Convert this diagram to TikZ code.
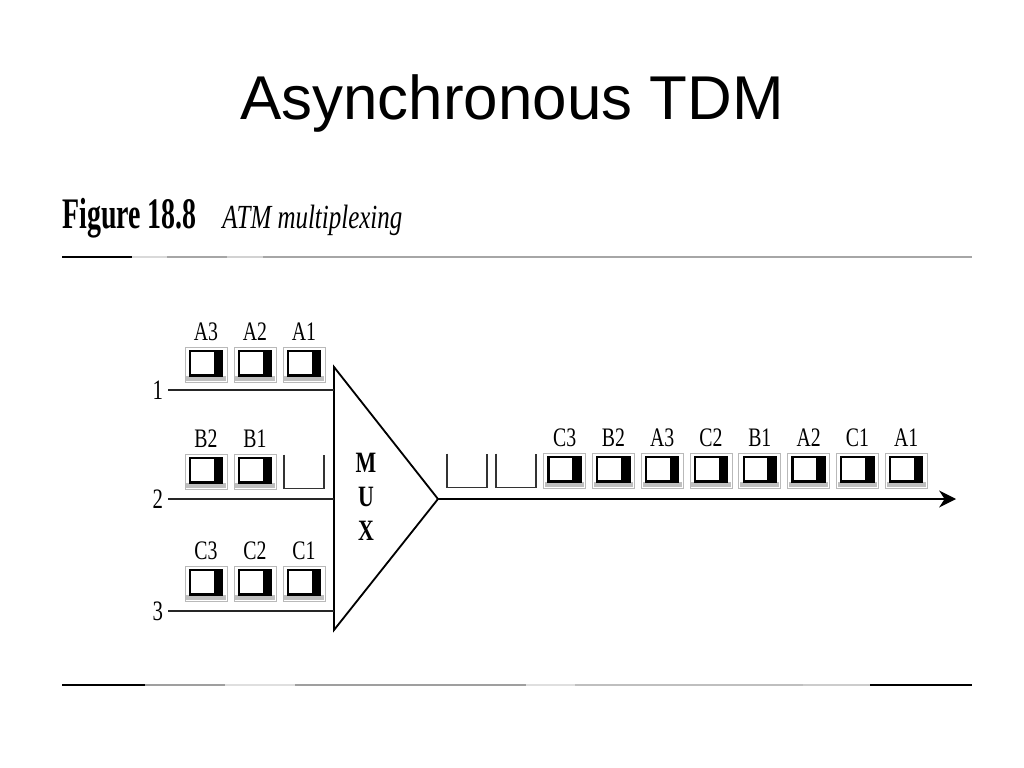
\documentclass[tikz,border=0pt]{standalone}
\usepackage{fontspec}
\newfontfamily\titlefont{Liberation Sans}
\newfontfamily\figfont[FakeStretch=0.74]{Liberation Serif}
\newfontfamily\capfont[FakeStretch=0.64]{Liberation Serif}
\usetikzlibrary{
    arrows.meta,
    positioning,
    calc
}
\tikzset{
  cell/.style    = {draw=gray!55, line width=0.6pt, fill=white, inner sep=0,
                    minimum width=1.05cm, minimum height=0.875cm,
                    path picture={
                      \fill[gray!50] ([shift={(1pt,1pt)}]path picture bounding box.south west)
                        rectangle ([shift={(-1pt,4.5pt)}]path picture bounding box.south east);
                      \fill[black] ([shift={(-9.5pt,-2.5pt)}]path picture bounding box.north east)
                        rectangle ([shift={(-3.5pt,5pt)}]path picture bounding box.south east);
                      \draw[black, line width=1.5pt] ([shift={(3.5pt,-2.5pt)}]path picture bounding box.north west)
                        rectangle ([shift={(-3.5pt,5pt)}]path picture bounding box.south east);
                    }},
  slot/.style    = {inner sep=0, minimum width=1.05cm, minimum height=0.875cm,
                    path picture={
                      \draw[line width=1.2pt, black!80]
                        ([shift={(0.7pt,0pt)}]path picture bounding box.north west)
                        |- ([shift={(-0.7pt,0.7pt)}]path picture bounding box.south east)
                        -- ([shift={(-0.7pt,0pt)}]path picture bounding box.north east);
                    }},
  lab/.style     = {inner sep=0, font=\figfont\fontsize{19}{19}\selectfont},
  num/.style     = {inner sep=0, font=\figfont\fontsize{20}{20}\selectfont},
  muxlab/.style  = {align=center, inner sep=0,
                    font=\figfont\bfseries\fontsize{21}{24}\selectfont},
  feed/.style    = {line width=1.9pt, black!85},
  outarr/.style  = {-{Stealth[length=12pt,width=12pt]}, line width=1.3pt},
  muxline/.style = {line width=1.3pt, line join=miter}
}

\begin{document}
\begin{tikzpicture}[x=0.025cm, y=0.025cm]
    \useasboundingbox[fill=white] (0,0) rectangle (1024,-768);
    % heading and caption
    \node[anchor=base, inner sep=0, font=\titlefont\fontsize{44}{44}\selectfont]
        (title) at (512,-120) {Asynchronous TDM};
    \node[anchor=base west, inner sep=0, font=\capfont\bfseries\fontsize{31}{31}\selectfont]
        (fignum) at (62,-228) {Figure 18.8};
    \node[anchor=base west, inner sep=0, font=\figfont\itshape\fontsize{24}{24}\selectfont]
        (figname) at (222,-228) {ATM multiplexing};
    % rules
    \draw[line width=1.6pt, gray!70] (62,-257) -- (972,-257);
    \draw[line width=1.6pt, gray!30] (132,-257) -- (167,-257);
    \draw[line width=1.6pt, gray!35] (227,-257) -- (263,-257);
    \draw[line width=1.8pt] (62,-257) -- (132,-257);
    \draw[line width=1.6pt, gray!75] (62,-685) -- (972,-685);
    \draw[line width=1.6pt, gray!25] (225,-685) -- (295,-685);
    \draw[line width=1.6pt, gray!25] (526,-685) -- (575,-685);
    \draw[line width=1.6pt, gray!50] (575,-685) -- (803,-685);
    \draw[line width=1.6pt, gray!40] (803,-685) -- (870,-685);
    \draw[line width=1.8pt] (62,-685) -- (145,-685);
    \draw[line width=1.8pt] (870,-685) -- (972,-685);
    % multiplexer
    \coordinate (muxT) at (334,-367);
    \coordinate (muxB) at (334,-630);
    \coordinate (muxA) at (438,-499);
    \draw[muxline] (muxT) -- (muxA) -- (muxB) -- cycle;
    \node[muxlab] (mux) at (366,-497) {M\\U\\X};
    % input lines
    \foreach \n/\y in {1/390, 2/499, 3/611} {
        \coordinate (in\n) at (168,-\y);
        \draw[feed] (in\n) -- (in\n -| muxT);
        \node[num, left=0.12cm of in\n] (num\n) {\n};
    }
    % input cells
    \foreach \lab [count=\i] in {A3,A2,A1} {
        \node[cell] (c\lab) at ({157+49*\i},-365) {};
        \node[lab, above=0.15cm of c\lab] (l\lab) {\lab};
    }
    \foreach \lab [count=\i] in {B2,B1} {
        \node[cell] (c\lab) at ({157+49*\i},-472) {};
        \node[lab, above=0.15cm of c\lab] (l\lab) {\lab};
    }
    \node[slot] (sB) at (304,-472) {};
    \foreach \lab [count=\i] in {C3,C2,C1} {
        \node[cell] (c\lab) at ({157+49*\i},-584) {};
        \node[lab, above=0.15cm of c\lab] (l\lab) {\lab};
    }
    % output stream
    \coordinate (outE) at (956,-499);
    \draw[outarr] (muxA) -- (outE);
    \node[slot] (s1) at (467,-471) {};
    \node[slot] (s2) at (516,-471) {};
    \foreach \lab [count=\i from 2] in {C3,B2,A3,C2,B1,A2,C1,A1} {
        \node[cell] (o\lab) at ({467+48.8*\i},-471) {};
        \node[lab, above=0.15cm of o\lab] (m\lab) {\lab};
    }
\end{tikzpicture}
\end{document}
